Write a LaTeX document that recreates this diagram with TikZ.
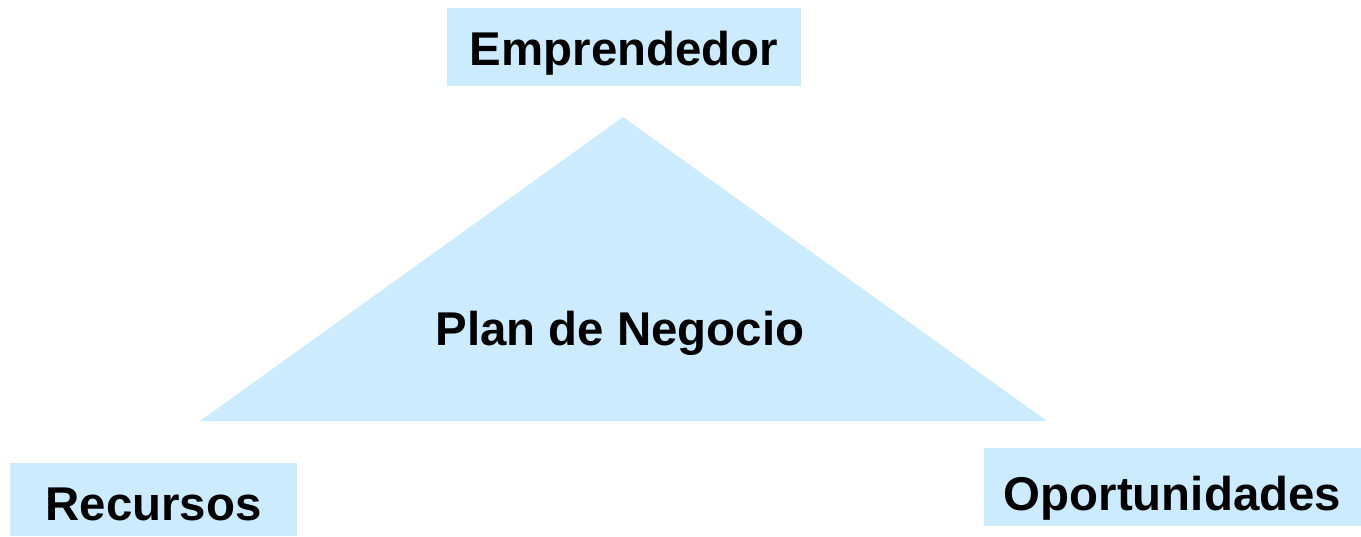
\documentclass[tikz,border=0pt]{standalone}
\usepackage{fontspec}
\setmainfont{Liberation Sans}
\usepackage{tikz}
\definecolor{celeste}{RGB}{204,235,255}
\tikzset{
  caja/.style={fill=celeste, inner sep=0pt, text depth=0pt, font=\bfseries\fontsize{23.7}{28}\selectfont},
  rotulo/.style={inner sep=0pt, font=\bfseries\fontsize{23.7}{28}\selectfont}
}

\begin{document}
\begin{tikzpicture}[x=0.5pt, y=-0.5pt]
      \useasboundingbox (0,0) rectangle (1361,536);
      % Triangle:
      \coordinate (cima) at (623,117);
      \coordinate (izq) at (200,421);
      \coordinate (der) at (1047,421);
      \fill[celeste] (cima) -- (der) -- (izq) -- cycle;
      \node[rotulo, anchor=base] (plan) at (620,345) {Plan de Negocio};
      % Boxes:
      \node[caja, minimum width=177pt, minimum height=39pt, text height=18.5pt] (emp) at (624,46.5) {Emprendedor};
      \node[caja, minimum width=143.5pt, minimum height=36.5pt, text height=20.5pt] (rec) at (153.5,499.5) {Recursos};
      \node[caja, minimum width=188.5pt, minimum height=39pt, text height=23pt] (opo) at (1172.5,487) {Oportunidades};
    \end{tikzpicture}
\end{document}
